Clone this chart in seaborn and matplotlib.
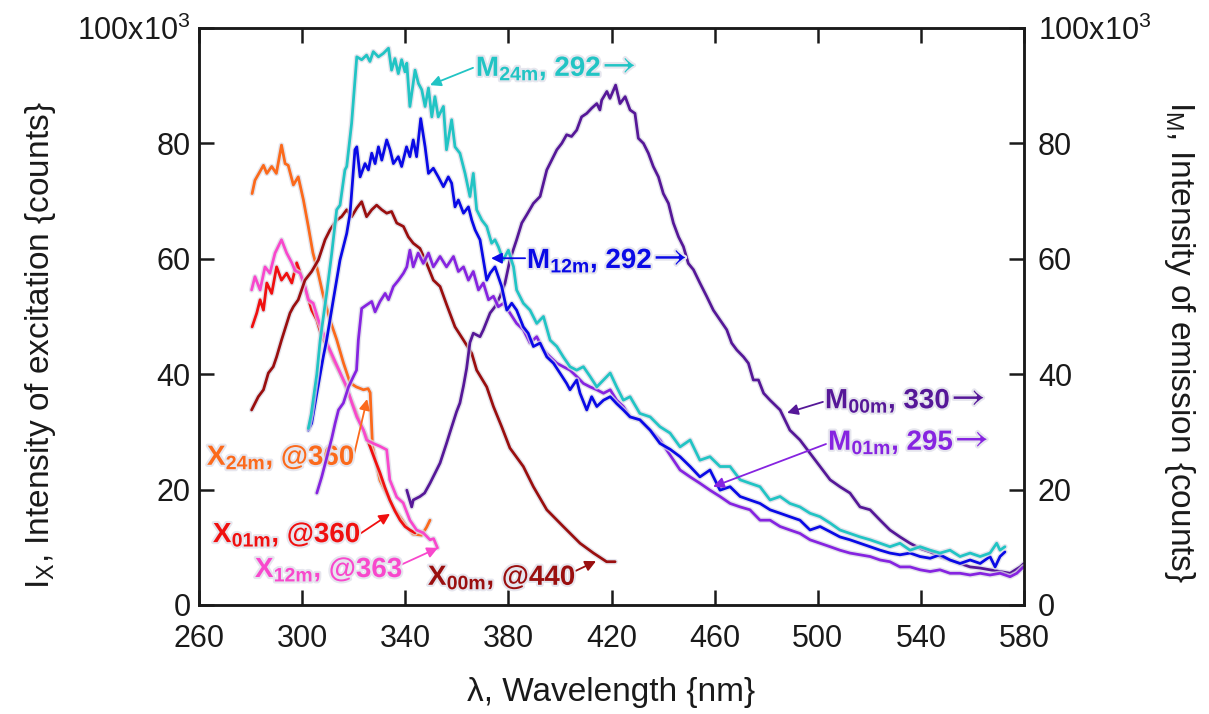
import matplotlib
matplotlib.use("Agg")
import numpy as np
import pandas as pd
import seaborn as sns
import matplotlib.pyplot as plt
import matplotlib.patheffects as pe

# ---------------- data (wavelength nm, intensity in 10^3 counts) ----------------
x24_nm = [280.6, 281.7, 285, 286.3, 288.2, 290, 292, 293.4, 294.6, 296.6, 298.5, 300.5, 302.4, 304.2, 306, 308,
          310.8, 313.4, 316, 318.6, 321, 323.8, 325.6, 326.4, 327.3, 330.2, 335.3, 340.7, 343, 346.4, 348.3, 349.6]
x24_k = [71.3, 73.6, 76.2, 74.8, 76, 74.8, 79.7, 76.5, 76.2, 72.8, 74.2, 70.2, 65.6, 61, 58, 54,
         49.4, 46, 42, 38.5, 37.8, 37.3, 37.5, 36.8, 27.5, 21.6, 17, 13.5, 12.3, 12.1, 13.5, 14.7]

x01_nm = [280.6, 282.4, 283.7, 285, 286.3, 288.2, 290.1, 292, 294, 296, 297.9, 299.8, 301.8, 303.7, 305.7, 307.6,
          310, 312.3, 314.7, 316.6, 318.6, 320.5, 322.5, 324.5, 326.4, 328.3, 330.2, 332.1, 334, 336, 338, 339.9,
          341.8, 343.8]
x01_k = [48.2, 50.6, 52.9, 51.1, 55.8, 54, 58.6, 56.3, 57.5, 55.8, 59.3, 56.9, 54, 51.1, 49.4, 46.5,
         44.7, 42.3, 40.2, 38.3, 36, 33.9, 31.5, 29.6, 27.4, 25.1, 22.9, 20.4, 18.2, 16.3, 14.7, 13.6,
         13, 12.5]

x12_nm = [280.4, 281.7, 283.7, 285.6, 287.5, 289.5, 292, 294, 296, 297.2, 299.2, 301.1, 302.4, 304.3, 306.3, 308.2,
          310.2, 312.5, 315, 317.3, 319.3, 321.2, 323.8, 325, 327.6, 330.2, 332.8, 334, 336.7, 339.2, 341.8, 344.4,
          347, 349.6, 351, 352.5]
x12_k = [54.6, 56.9, 54.6, 58.6, 57.5, 61, 63.3, 61, 59.3, 58, 57.5, 55.2, 52.9, 52.3, 49.4, 47.1,
         44.8, 42.5, 40, 37.8, 35, 32.6, 30.3, 28.6, 28, 27.5, 26.9, 21.7, 18.7, 17.7, 14.7, 13,
         12.5, 11.3, 11.5, 9.9]

x00_nm = [280.4, 283, 285, 286.9, 288.8, 290.1, 292, 295.3, 296.6, 298.5, 301.1, 303.7, 306.3, 308.9, 310.8, 313.4,
          315.3, 317.3, 319.2, 321.2, 323.1, 325, 327, 328.9, 330.9, 332.8, 334.7, 336.7, 339.3, 341.2, 343.1, 345.7,
          348.3, 350.9, 353.5, 356.1, 359.3, 362.6, 365.8, 367.7, 371.6, 374.2, 377.4, 380.6, 385.8, 389.7, 394.9,
          401.3, 407.8, 413, 418.1, 421.4]
x00_k = [33.8, 36.1, 37.3, 40.2, 41.3, 43, 45.9, 50.6, 51.7, 52.9, 56.3, 57.8, 59.8, 63.3, 65, 66.7,
         67.3, 68.5, 67.3, 68.8, 69.9, 67.3, 68.5, 69.3, 68.5, 67.9, 68.2, 66.2, 65.6, 63.8, 62.7, 61.8,
         59.2, 56.3, 55.2, 52, 48.2, 45.9, 43.6, 40.7, 37.8, 34.4, 30.9, 27.2, 24, 20.5, 16.5,
         13.6, 10.7, 9, 7.5, 7.5]

m24_nm = [302.4, 303.5, 305.7, 307, 309.5, 311.5, 313.4, 314.7, 316.6, 317.3, 319.2, 321.2, 323.1, 325, 326.3, 327.6,
          329.6, 331.5, 333.5, 334.7, 336, 337.3, 338.6, 339.9, 340.6, 341.8, 343.8, 345.1, 346.4, 347.7, 349, 350.3,
          351.5, 352.8, 354.8, 356, 358, 359.3, 361.2, 363.2, 365.1, 366.4, 367.7, 369.7, 371.6, 373.5, 374.8, 376.1,
          378, 380, 382, 383.2, 385.8, 388.4, 391, 393.6, 396.2, 398.8, 401.3, 403.9, 406.5, 409.1, 411.7, 414.3,
          416.9, 419.5, 422, 424.6, 427.2, 431, 435, 438.8, 442.7, 446.6, 450.5, 454.3, 458.2, 462.1, 466, 469.9,
          473.7, 477.6, 481.5, 485.4, 489.2, 493.1, 497, 500.9, 504.8, 508.6, 512.5, 516.4, 520.3, 524.2, 528, 531.9,
          535.8, 539.7, 543.6, 547.4, 551.3, 555.2, 559.1, 563, 566.8, 569.4, 570.7, 572.6]
m24_k = [30.6, 33, 40, 45.9, 54, 61, 68.5, 69.3, 75.4, 76, 83.5, 95, 94.5, 95.3, 94.2, 95.9,
         95, 95.6, 96.5, 92.7, 94.7, 92.1, 94.5, 92.4, 93.9, 86.4, 92.7, 90.4, 89.3, 86.4, 89.6, 84.6,
         88.1, 84.6, 86.4, 78.9, 84.1, 79.4, 78.3, 74.8, 70.8, 74.8, 68.5, 66.7, 65.6, 62.7, 63.3, 62.1,
         59.8, 61.5, 58.6, 54.6, 52.3, 51.1, 48.8, 50, 45.9, 44.8, 43, 41.3, 40.7, 41.3, 39.6, 37.8,
         39, 40.2, 37.8, 35.5, 36.1, 33.2, 32.6, 30.9, 29.8, 27.4, 28.6, 25.1, 25.7, 24, 24, 21.7,
         21.1, 20.5, 18.2, 18.8, 17.6, 17, 15.9, 15.3, 14.2, 13, 12.4, 11.8, 11.3, 10.7, 10.1, 10.7,
         9.5, 10.1, 9.5, 9, 9.5, 8.4, 9, 8.4, 9, 10.7, 9.5, 10.1]

m12_nm = [302.4, 303.7, 305.7, 308.2, 309.5, 312.1, 314.7, 317.3, 318.6, 320.5, 321.2, 322.5, 324.4, 325.7, 327, 328.3,
          329.6, 330.9, 332.8, 334.1, 335.4, 337.3, 338.6, 340.5, 341.8, 343.1, 344.4, 346, 347.7, 349, 350.9, 352.8,
          354.8, 356.7, 358, 359.3, 360.6, 362.6, 364.5, 365.8, 367.1, 369, 370.3, 371.6, 372.9, 374.8, 377.4, 379.4,
          381.3, 383.2, 385.8, 387.7, 389.7, 392.3, 394.9, 397.5, 400, 402.6, 403.9, 406.5, 407.8, 410.4, 412.3, 414.3,
          416.9, 419.5, 422, 424.6, 427.2, 431, 435, 438.8, 442.7, 446.6, 450.5, 454.3, 458.2, 462.1, 466, 469.9,
          473.7, 477.6, 481.5, 485.4, 489.2, 493.1, 497, 500.9, 504.8, 508.6, 512.5, 516.4, 520.3, 524.2, 528, 531.9,
          535.8, 539.7, 543.6, 547.4, 551.3, 555.2, 559.1, 563, 566.8, 568.8, 570.7, 572.6]
m12_k = [30.3, 31.5, 36.7, 43, 45.9, 52.9, 59.8, 64.4, 67.9, 78.9, 79.4, 74.2, 76.5, 75.4, 78.3, 76.5,
         79.4, 77.1, 80.6, 78.9, 76.5, 77.7, 76, 79.4, 77.7, 80.6, 77.7, 84.3, 79.4, 74.8, 75.7, 74.2,
         72.5, 74.2, 73.1, 69, 70.2, 67.9, 69, 66.7, 65, 63.3, 59.8, 56.3, 57.5, 58.6, 55.2, 51.1,
         52.3, 51.1, 48.2, 47.1, 44.8, 45.4, 43, 41.9, 40.2, 38.4, 37.3, 39, 36.7, 33.8, 36.1, 34.4,
         35.5, 36.1, 34.9, 33.8, 32.6, 32.1, 30.3, 28, 27, 25.7, 24, 22.2, 23.4, 19.9, 20.5, 18.8,
         18.2, 17.6, 16.5, 15.9, 15.3, 14.7, 13, 13.6, 12.7, 11.8, 11.3, 10.7, 10.1, 9.5, 9, 8.7,
         9, 8.4, 8.1, 8.7, 7.8, 7.2, 7.8, 7.2, 8.4, 6.6, 8.4, 9.2]

m01_nm = [305.7, 307.6, 311.5, 312.8, 314.1, 316, 318, 319.9, 321.1, 321.8, 323.1, 325, 327, 328.3, 330.2, 332.2,
          333.5, 335.4, 337.4, 339.3, 340.6, 341.8, 343.1, 345, 347, 349, 350.9, 353.5, 356, 358.7, 360.6, 362.6,
          364.5, 366.4, 368.4, 370.3, 372.3, 374.2, 376.1, 378.1, 380.6, 383.2, 385.8, 388.4, 391, 393.6, 396.2,
          398.8, 401.3, 403.9, 406.5, 409.1, 411.7, 414.3, 416.9, 419.5, 422, 424.6, 427.2, 431, 435, 438.8, 442.7,
          446.6, 450.5, 454.3, 458.2, 462.1, 466, 469.9, 473.7, 477.6, 481.5, 485.4, 489.2, 493.1, 497, 500.9,
          504.8, 508.6, 512.5, 516.4, 520.3, 524.2, 528, 531.9, 535.8, 539.7, 543.6, 547.4, 551.3, 555.2, 559.1,
          563, 566.8, 570.7, 574.6, 577.2, 579.8]
m01_k = [19.4, 22.2, 28.9, 31.5, 33.8, 35, 37.8, 39.6, 40.7, 45.9, 51.4, 52, 52.6, 50.8, 52.6, 54,
         52.9, 55.2, 56.3, 57.5, 58.6, 61.5, 58.6, 61, 59.2, 61, 58.6, 60.4, 58.6, 60.4, 57.8, 58.6,
         56.3, 57.8, 54.6, 55.8, 52.9, 53.5, 51.7, 52.3, 50.6, 48.8, 47.7, 45.4, 46.5, 44.2, 43,
         41.9, 41.3, 40.7, 39.6, 38.4, 37.8, 37.3, 36.7, 37.3, 35.5, 34.4, 32.6, 32.1, 30.3, 28.6, 26,
         23.4, 22.2, 21.1, 19.9, 18.8, 17.6, 17, 16.5, 14.7, 14.7, 13.6, 13, 12.4, 11.3, 10.7,
         10.1, 9.5, 9, 8.7, 8.4, 7.8, 7.5, 6.6, 6.6, 6.1, 5.8, 6.1, 5.5, 5.5, 5.2,
         5.5, 5.2, 5.5, 4.9, 5.5, 6.6]

m00_nm = [340.6, 342.5, 343.1, 345.7, 347.5, 349.6, 351.5, 353.5, 356, 357.4, 359.9, 361.2, 362.6, 363.8, 365.1, 366.4,
          369, 370.3, 372.9, 374.8, 376.8, 378.7, 380.6, 383.2, 385.2, 387.1, 389.7, 392.3, 393.6, 394.9, 396.8,
          398.8, 400.7, 402.6, 404.5, 406.5, 408.4, 410.4, 412.3, 414.3, 415.5, 416.2, 418.2, 419.4, 421.6, 423.3,
          425.3, 427.2, 429.1, 430.4, 432.4, 434.3, 436.2, 438.2, 440.1, 442.1, 444, 446, 447.9, 449.8, 451.8,
          454.3, 456.9, 459.5, 462.1, 464.7, 466.6, 468.6, 471.2, 473.1, 475, 477, 479, 481.5, 485.4, 489.2,
          493.1, 497, 500.9, 504.8, 508.6, 512.5, 516.4, 520.3, 524.2, 528, 531.9, 535.8, 539.7, 543.6, 547.4,
          551.3, 555.2, 559.1, 563, 566.8, 570.7, 574.6, 578.5, 580]
m00_k = [19.9, 17, 18.2, 18.8, 19.4, 21.1, 22.8, 24.6, 28, 30, 33.5, 35, 38, 41, 45.5, 47.1,
         46.5, 47.7, 50.6, 51.7, 53.5, 55.8, 59.8, 63.3, 66.2, 67.6, 69.6, 70.8, 73.1, 75.4, 77.1,
         78.9, 80, 81.5, 81.2, 82.3, 84.6, 85.2, 86.1, 86.9, 85.8, 87.5, 89, 87.8, 90.1, 86.9,
         88.1, 85.8, 85.2, 80.9, 80, 78.3, 76, 74.2, 71.3, 69.6, 66.2, 63.8, 62.1, 59.2, 58.1,
         55.8, 53.5, 51.1, 49.4, 47.7, 45.4, 44.2, 43, 41.9, 39, 39, 36.7, 35.5, 33.8, 30.3,
         28.6, 26.3, 24, 21.7, 20.5, 19.4, 17, 16.5, 14.7, 13, 11.8, 10.7, 9.8, 9.2, 8.4,
         7.8, 7.2, 6.6, 6.4, 6.1, 5.8, 5.5, 6.6, 7.2]

excitation = {"X24m": (x24_nm, x24_k), "X01m": (x01_nm, x01_k),
              "X12m": (x12_nm, x12_k), "X00m": (x00_nm, x00_k)}
emission = {"M00m": (m00_nm, m00_k), "M01m": (m01_nm, m01_k),
            "M12m": (m12_nm, m12_k), "M24m": (m24_nm, m24_k)}

colors = {"X24m": "#fb6a1c", "X01m": "#f01010", "X12m": "#f848cc", "X00m": "#9a0f0f",
          "M24m": "#22c4c4", "M12m": "#0a0ae6", "M01m": "#8624e0", "M00m": "#561898"}

x_ticks = [260, 300, 340, 380, 420, 460, 500, 540, 580]
y_ticks = [0, 20, 40, 60, 80, 100]
y_ticklabels = ["0", "20", "40", "60", "80", r"100x10$^3$"]

# annotations: letter, subscript, suffix, trailing arrow?, text pos, arrow start, arrow end, series
annotations = [
    ("M", "24m", ", 292", True, (367.4, 91.7), (366.3, 93.1), (349.6, 90.1), "M24m"),
    ("M", "12m", ", 292", True, (387.2, 58.4), (386.5, 60.1), (373.3, 60.1), "M12m"),
    ("M", "00m", ", 330", True, (502.8, 34.1), (502.0, 35.2), (488.1, 33.3), "M00m"),
    ("M", "01m", ", 295", True, (504.0, 26.9), (503.2, 27.9), (459.4, 20.5), "M01m"),
    ("X", "24m", ", @360", False, (263.1, 24.3), (320.1, 26.0), (325.2, 35.7), "X24m"),
    ("X", "01m", ", @360", False, (265.4, 10.9), (321.3, 12.0), (334.1, 15.8), "X01m"),
    ("X", "12m", ", @363", False, (281.7, 4.85), (338.0, 6.9), (352.7, 9.9), "X12m"),
    ("X", "00m", ", @440", False, (348.8, 3.5), (405.1, 5.7), (414.0, 7.6), "X00m"),
]


def long_frame(d):
    frames = [pd.DataFrame({"nm": v[0], "k": v[1], "series": name}) for name, v in d.items()]
    return pd.concat(frames, ignore_index=True)


df_x = long_frame(excitation)
df_m = long_frame(emission)

# ---------------- style ----------------
sns.set_theme(style="ticks")
plt.rcParams["font.family"] = ["Liberation Sans", "DejaVu Sans"]
plt.rcParams["mathtext.fontset"] = "custom"
plt.rcParams["mathtext.rm"] = "Liberation Sans"
plt.rcParams["mathtext.bf"] = "Liberation Sans:bold"
plt.rcParams["mathtext.it"] = "Liberation Sans:italic"
for key in ["text.color", "axes.labelcolor", "xtick.color", "ytick.color", "axes.edgecolor"]:
    plt.rcParams[key] = "#1a1a1a"

fig = plt.figure(figsize=(12.09, 7.14), dpi=100)
ax = fig.add_axes([199 / 1209, 1 - 605 / 714, 825 / 1209, 577 / 714])
ax2 = ax.twinx()

halo = [pe.Stroke(linewidth=4.0, foreground="#dcdce6", alpha=0.75), pe.Normal()]

sns.lineplot(data=df_x, x="nm", y="k", hue="series", palette=colors, sort=False,
             estimator=None, linewidth=2.0, legend=False, ax=ax)
sns.lineplot(data=df_m, x="nm", y="k", hue="series", palette=colors, sort=False,
             estimator=None, linewidth=2.0, legend=False, ax=ax2)
for ln in ax.lines + ax2.lines:
    ln.set_path_effects(halo)

for a in (ax, ax2):
    a.set_xlim(260, 580)
    a.set_ylim(0, 100)
    a.set_yticks(y_ticks)
    a.set_yticklabels(y_ticklabels)
    for s in a.spines.values():
        s.set_linewidth(1.8)
        s.set_visible(True)
ax.set_xticks(x_ticks)
ax.tick_params(axis="x", direction="in", length=11, width=1.8, labelsize=22, pad=14, top=True)
ax.tick_params(axis="y", direction="in", length=11, width=1.8, labelsize=22, pad=6, right=False)
ax2.tick_params(axis="y", direction="in", length=11, width=1.8, labelsize=22, pad=10)

ax.set_xlabel("λ, Wavelength {nm}", fontsize=24)
ax.xaxis.label.set(va="center")
ax.xaxis.set_label_coords(0.5, -0.1525)
ax.set_ylabel(r"I$_\mathrm{X}$, Intensity of excitation {counts}", fontsize=24)
ax.yaxis.label.set(rotation=90, ha="center", va="center")
ax.yaxis.set_label_coords(-0.192, 0.45)
ax2.set_ylabel(r"I$_\mathrm{M}$, Intensity of emission {counts}", fontsize=24)
ax2.yaxis.label.set(rotation=-90, ha="center", va="center")
ax2.yaxis.set_label_coords(1.188, 0.455)

text_halo = [pe.withStroke(linewidth=3, foreground="#e6e6ee")]
for letter, sub, suffix, trailing, tpos, a0, a1, key in annotations:
    tgt = ax2 if key.startswith("M") else ax
    c = colors[key]
    tgt.annotate("", xy=a1, xytext=a0,
                 arrowprops=dict(arrowstyle="-|>", color=c, lw=1.3, mutation_scale=16,
                                 shrinkA=0, shrinkB=0))
    lab = tgt.text(tpos[0], tpos[1], r"$\mathbf{%s_{%s}}$%s" % (letter, sub, suffix),
                   color=c, fontsize=20, fontweight="bold", ha="left", va="baseline",
                   path_effects=text_halo)
    if trailing:
        tgt.annotate("→", xy=(1, 0.5), xycoords=lab, xytext=(0.3, 2.5),
                     textcoords="offset points", ha="left", va="center",
                     fontsize=27, family="STIXGeneral", color=c,
                     path_effects=text_halo)

fig.savefig("out.png", dpi=100)
